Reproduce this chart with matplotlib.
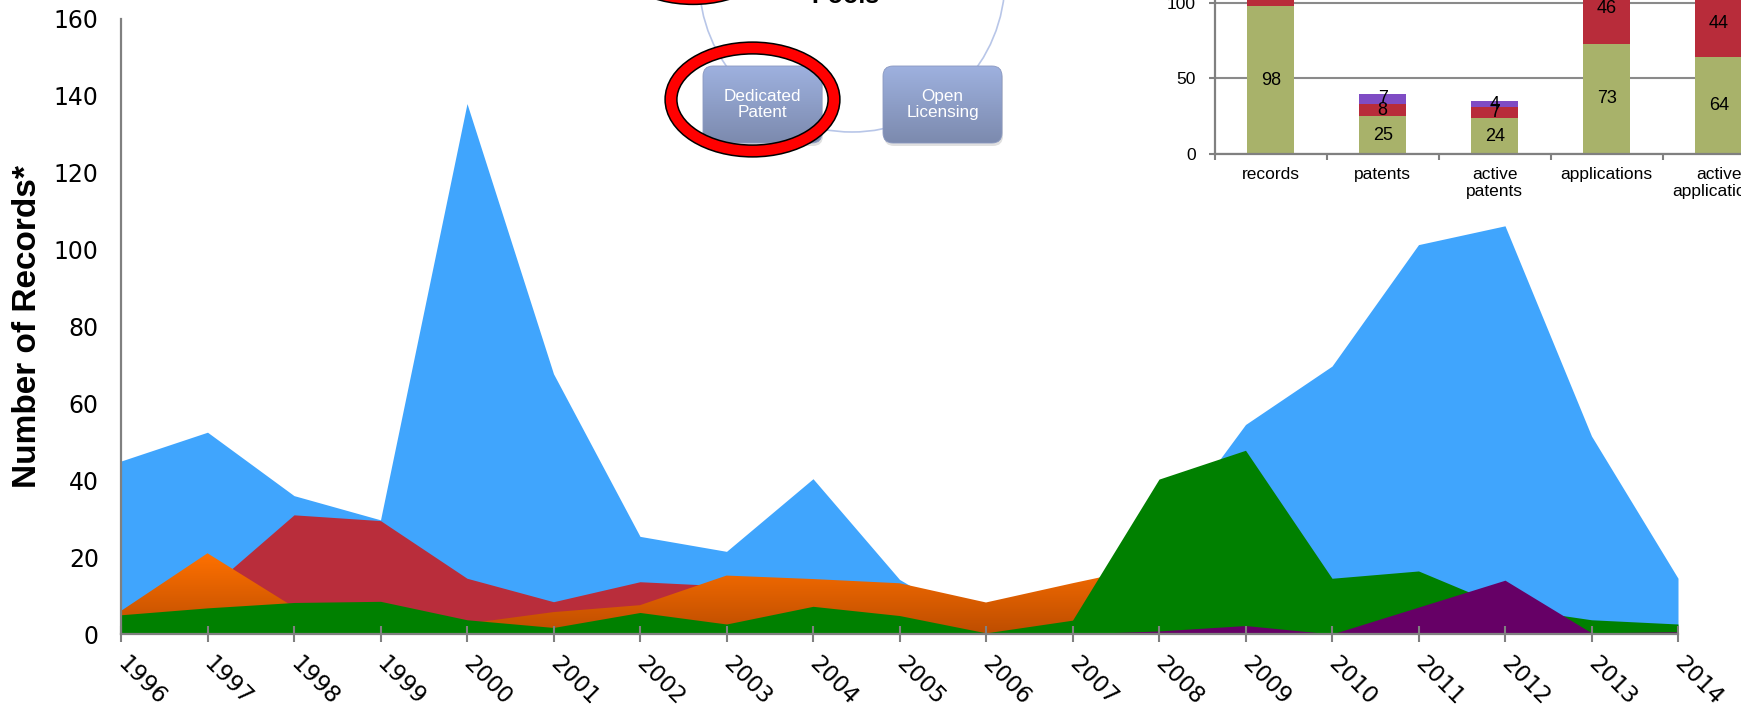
import numpy as np
import matplotlib
matplotlib.use('Agg')
import matplotlib.pyplot as plt
from matplotlib.patches import Ellipse, FancyBboxPatch
from matplotlib.colors import LinearSegmentedColormap

# ---------------- data ----------------
years = list(range(1996, 2015))
blue_vals   = [45, 52.5, 36, 29.7, 138, 67.7, 25.4, 21.5, 40.4, 14.2, 1, 5, 24, 54.5, 69.7, 101.3, 106.2, 51.5, 14.5]
red_vals    = [3, 11.5, 31, 29.5, 14.5, 8.4, 13.6, 12.5, 10, 8, 5, 3, 2, 2, 2, 2, 2, 1, 1]
orange_vals = [6, 21, 7, 5, 2.7, 5.7, 7.5, 15.2, 14.3, 13.2, 8.2, 13.2, 18, 5, 3, 2, 1, 1, 1]
green_vals  = [5, 6.8, 8.2, 8.5, 3.7, 1.7, 5.6, 2.6, 7.2, 4.8, 0.3, 3.6, 40.3, 47.8, 14.5, 16.4, 7, 3.7, 2.6]
purple_vals = [0, 0, 0, 0, 0, 0, 0, 0, 0, 0, 0, 0, 0.8, 2.2, 0, 7, 14, 0.3, 0.6]
y_ticks = [0, 20, 40, 60, 80, 100, 120, 140, 160]

inset_cats = ['records', 'patents', 'active\npatents', 'applications', 'active\napplications']
inset_green = [98, 25, 24, 73, 64]
inset_red = [52, 8, 7, 46, 44]
inset_purple = [0, 7, 4, 0, 0]
inset_ticks = [0, 50, 100, 150]

box_labels = ['Dedicated\nPatent', 'Open\nLicensing']
title_text = 'Pools'

W, H = 1741, 708
fig = plt.figure(figsize=(W / 100, H / 100), dpi=100)
fig.patch.set_facecolor('white')

GRAY = '#808080'

# ---------------- main area chart ----------------
ax = fig.add_axes([121 / W, (H - 634) / H, (1678 - 121) / W, (634 - 19) / H])
ax.set_facecolor('white')
ax.fill_between(years, blue_vals, color='#40a5fd', lw=0, zorder=1)
ax.fill_between(years, red_vals, color='#b92d3b', lw=0, zorder=2)
opoly = ax.fill_between(years, orange_vals, color='none', lw=0, zorder=3)
cmap_o = LinearSegmentedColormap.from_list('o', ['#bd4d00', '#ff7100'])
grad = np.linspace(0, 1, 256).reshape(-1, 1)
im = ax.imshow(grad, extent=[years[0], years[-1], 0, max(orange_vals)], origin='lower',
               aspect='auto', cmap=cmap_o, zorder=3, interpolation='bilinear')
im.set_clip_path(opoly.get_paths()[0], transform=ax.transData)
ax.fill_between(years, green_vals, color='#008000', lw=0, zorder=4)
ax.fill_between(years, purple_vals, color='#660066', lw=0, zorder=5)

ax.set_xlim(years[0], years[-1])
ax.set_ylim(0, 160)
ax.set_yticks(y_ticks)
ax.set_xticks(years)
ax.set_xticklabels([str(y) for y in years], rotation=-45, ha='left', va='center',
                   rotation_mode='anchor', fontsize=16.5, family='DejaVu Sans')
for lab in ax.get_yticklabels():
    lab.set_fontsize(17)
    lab.set_family('DejaVu Sans')
ax.tick_params(axis='y', length=0, pad=16)
ax.tick_params(axis='x', direction='inout', length=11, width=1.5, color=GRAY, pad=13.5)
for s in ['top', 'right']:
    ax.spines[s].set_visible(False)
for s in ['left', 'bottom']:
    ax.spines[s].set_color(GRAY)
    ax.spines[s].set_linewidth(1.6)
    ax.spines[s].set_zorder(10)
ax.xaxis.set_zorder(11)
ax.yaxis.set_zorder(11)
ax.set_ylabel('Number of Records*', fontsize=24, fontweight='bold', family='Liberation Sans')
ax.yaxis.set_label_coords(-0.05, 0.5)

# ---------------- inset stacked bars ----------------
axi = fig.add_axes([1214.7 / W, (H - 154.3) / H, 560 / W, 227.4 / H])
axi.set_facecolor('none')
xi = np.arange(len(inset_cats))
g = np.array(inset_green, dtype=float)
r = np.array(inset_red, dtype=float)
p = np.array(inset_purple, dtype=float)
bw = 0.417
b1 = axi.bar(xi, g, width=bw, color='#a8b26a', zorder=3)
b2 = axi.bar(xi, r, bottom=g, width=bw, color='#b82c3a', zorder=3)
b3 = axi.bar(xi, p, bottom=g + r, width=bw, color='#7f4cc4', zorder=3)
for cont, vals in [(b1, inset_green), (b2, inset_red), (b3, inset_purple)]:
    axi.bar_label(cont, labels=[str(v) if v else '' for v in vals], label_type='center',
                  fontsize=13, family='Liberation Sans', color='black')
axi.set_xlim(-0.5, len(inset_cats) - 0.5)
axi.set_ylim(0, 150)
axi.set_yticks(inset_ticks)
axi.set_xticks(xi)
axi.set_xticklabels(inset_cats, fontsize=12.5, family='Liberation Sans', linespacing=1.15)
axi.set_xticks(np.arange(-0.5, len(inset_cats)), minor=True)
for lab in axi.get_yticklabels():
    lab.set_fontsize(12.5)
    lab.set_family('Liberation Sans')
axi.tick_params(axis='x', which='major', length=0, pad=9)
axi.tick_params(axis='x', which='minor', length=4.5, width=1.5, color=GRAY, direction='out')
axi.tick_params(axis='y', length=4.5, width=1.5, color=GRAY, direction='out', pad=9)
axi.yaxis.grid(True, color='#8a8a8a', lw=1.5, zorder=0)
axi.set_axisbelow(True)
for s in ['top', 'right']:
    axi.spines[s].set_visible(False)
for s in ['left', 'bottom']:
    axi.spines[s].set_color(GRAY)
    axi.spines[s].set_linewidth(1.6)
    axi.spines[s].set_zorder(10)

# ---------------- diagram overlay ----------------
axo = fig.add_axes([0, 0, 1, 1], zorder=20)
axo.set_xlim(0, W)
axo.set_ylim(H, 0)
axo.axis('off')
axo.set_facecolor('none')

axo.add_patch(Ellipse((852, -21), 306, 306, fill=False, edgecolor='#b8c6e8', lw=1.2, zorder=1))

cmap_b = LinearSegmentedColormap.from_list('b', ['#9eb1df', '#7c8aae'])
for (x0, label) in zip([703, 883], box_labels):
    y0, bwid, bh = 66, 119, 77
    sh = FancyBboxPatch((x0 + 1, y0 + 3), bwid, bh, boxstyle='round,pad=0,rounding_size=10',
                        facecolor='#000000', alpha=0.12, lw=0, zorder=2)
    axo.add_patch(sh)
    bx = FancyBboxPatch((x0, y0), bwid, bh, boxstyle='round,pad=0,rounding_size=10',
                        facecolor='none', edgecolor='#8a98c0', lw=0.6, zorder=4)
    axo.add_patch(bx)
    gi = axo.imshow(np.linspace(0, 1, 128).reshape(-1, 1), extent=[x0, x0 + bwid, y0 + bh, y0],
                    origin='upper', aspect='auto', cmap=cmap_b, zorder=3, interpolation='bilinear')
    gi.set_clip_path(bx)
    axo.text(x0 + bwid / 2, y0 + bh / 2, label, ha='center', va='center', color='white',
             fontsize=12.3, family='Liberation Sans', linespacing=1.05, zorder=5)
axo.set_xlim(0, W)
axo.set_ylim(H, 0)

for c in [(752.5, 99.5), (693, -53)]:
    axo.add_patch(Ellipse(c, 163, 103, fill=False, edgecolor='black', lw=9.6, zorder=6))
    axo.add_patch(Ellipse(c, 163, 103, fill=False, edgecolor='#ff0000', lw=7.4, zorder=7))

axo.text(845, 3, title_text, ha='center', va='baseline', fontsize=18, fontweight='bold',
         family='Liberation Sans', color='black', zorder=8)

fig.savefig('out.png', dpi=100)
